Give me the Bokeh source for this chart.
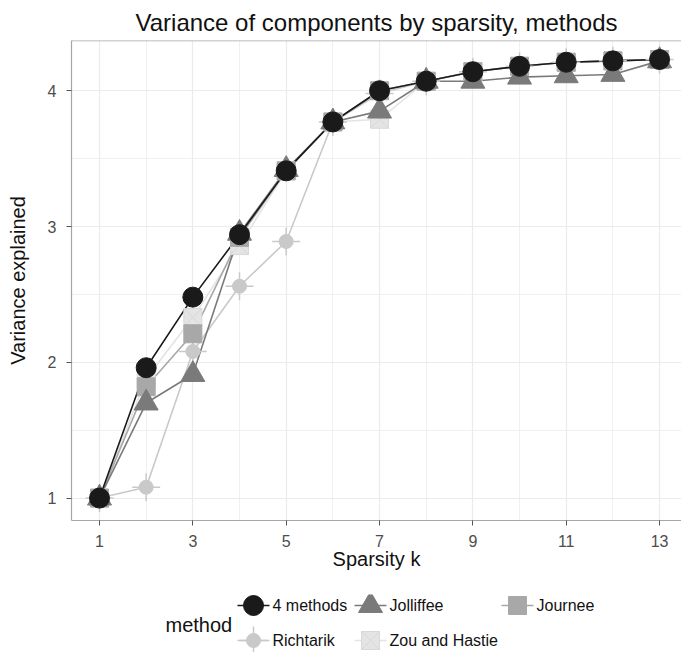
from bokeh.plotting import figure
from bokeh.models import Range1d, FixedTicker, Span
from bokeh.layouts import column
from bokeh.core.properties import value
from bokeh.embed import file_html
from bokeh.resources import INLINE

# ---- data ----
sparsity_k = [1, 2, 3, 4, 5, 6, 7, 8, 9, 10, 11, 12, 13]
methods = ["4 methods", "Jolliffee", "Journee", "Richtarik", "Zou and Hastie"]
var_4methods = [1.00, 1.96, 2.48, 2.94, 3.41, 3.77, 4.00, 4.07, 4.14, 4.18, 4.21, 4.22, 4.23]
var_jolliffee = [1.00, 1.70, 1.91, 2.95, 3.42, 3.77, 3.85, 4.07, 4.07, 4.10, 4.11, 4.12, 4.22]
var_journee = [1.00, 1.82, 2.21, 2.92, 3.41, 3.77, 4.00, 4.07, 4.14, 4.18, 4.21, 4.22, 4.23]
var_richtarik = [1.00, 1.08, 2.08, 2.56, 2.89, 3.77, 3.98, 4.07, 4.14, 4.18, 4.21, 4.22, 4.23]
var_zou = [1.00, 1.88, 2.33, 2.86, 3.41, 3.77, 3.79, 4.07, 4.14, 4.18, 4.21, 4.22, 4.23]
x_ticks = [1, 3, 5, 7, 9, 11, 13]
x_minor = [2, 4, 6, 8, 10, 12]
y_ticks = [1, 2, 3, 4]
y_minor = [1.5, 2.5, 3.5]

FONT = "Liberation Sans"
C4, CJO, CJU, CRI, CZO = "#1a1a1a", "#7a7a7a", "#a8a8a8", "#c9c9c9", "#e4e4e4"

p = figure(width=681, height=594, x_range=Range1d(0.4, 13.47), y_range=Range1d(0.835, 4.37),
           output_backend="svg", toolbar_location=None,
           min_border_left=71, min_border_right=0, min_border_top=40, min_border_bottom=74)
p.outline_line_color = None
p.background_fill_color = "white"

p.title.text = "Variance of components by sparsity, methods"
p.title.align = "center"
p.title.text_font = FONT
p.title.text_font_size = "24px"
p.title.text_font_style = "normal"
p.title.text_color = "#111111"
p.title.standoff = 9
p.title.offset = -9

# grid
p.xaxis.ticker = FixedTicker(ticks=x_ticks, minor_ticks=x_minor)
p.yaxis.ticker = FixedTicker(ticks=y_ticks, minor_ticks=y_minor)
for g in (p.xgrid, p.ygrid):
    g.grid_line_color = "#ebebeb"
    g.grid_line_width = 1.2
    g.minor_grid_line_color = "#f0f0f0"
    g.minor_grid_line_width = 1

for ax in (p.xaxis, p.yaxis):
    ax.axis_line_color = "#a6a6a6"
    ax.axis_line_width = 1.2
    ax.major_tick_line_color = "#555555"
    ax.major_tick_out = 5
    ax.major_tick_in = 0
    ax.minor_tick_line_color = None
    ax.major_label_text_font = FONT
    ax.major_label_text_font_size = "16px"
    ax.major_label_text_color = "#4d4d4d"
    ax.axis_label_text_font = FONT
    ax.axis_label_text_font_size = "20px"
    ax.axis_label_text_font_style = "normal"
    ax.axis_label_text_color = "#111111"
p.xaxis.axis_label = "Sparsity k"
p.yaxis.axis_label = "Variance explained"
p.yaxis.major_label_standoff = 10
p.xaxis.major_label_standoff = 9
p.yaxis.axis_label_standoff = 16
p.xaxis.axis_label_standoff = -2

p.add_layout(Span(location=4.3685, dimension="width", line_color="#a6a6a6", line_width=1.2))

series = [var_4methods, var_jolliffee, var_journee, var_richtarik, var_zou]
colors = [C4, CJO, CJU, CRI, CZO]

# lines
for vals, c in zip(series[::-1], colors[::-1]):
    p.line(sparsity_k, vals, line_color=c, line_width=1.6)

# points
p.scatter(sparsity_k, var_zou, marker="square_x", size=18, fill_color=CZO, line_color="#d8d8d8", line_width=1)
p.scatter(sparsity_k, var_richtarik, marker="cross", size=28, line_color=CRI, line_width=1.5)
p.scatter(sparsity_k, var_richtarik, marker="circle", size=14, fill_color=CRI, line_color=CRI)
p.scatter(sparsity_k, var_journee, marker="square", size=18, fill_color=CJU, line_color=CJU)
p.scatter(sparsity_k, var_jolliffee, marker="triangle", size=24, fill_color=CJO, line_color=CJO)
p.scatter(sparsity_k, var_4methods, marker="circle", size=20, fill_color=C4, line_color=C4)

# ---- legend (separate panel; its frame is aligned with the plot frame, coords = page pixels) ----
lg = figure(width=681, height=58, x_range=Range1d(71, 681), y_range=Range1d(652, 594),
            output_backend="svg", toolbar_location=None,
            min_border_left=71, min_border_right=0, min_border_top=0, min_border_bottom=0,
            x_axis_location=None, y_axis_location=None)
lg.grid.visible = False
lg.outline_line_color = None

key_x = [253, 370, 517, 253, 370]
key_y = [605, 605, 605, 640, 640]
for kx, ky, c in zip(key_x, key_y, colors):
    lg.line([kx - 16, kx + 16], [ky, ky], line_color=c, line_width=1.6)
lg.scatter([key_x[0]], [key_y[0]], marker="circle", size=20, fill_color=C4, line_color=C4)
lg.scatter([key_x[1]], [key_y[1]], marker="triangle", size=24, fill_color=CJO, line_color=CJO)
lg.scatter([key_x[2]], [key_y[2]], marker="square", size=18, fill_color=CJU, line_color=CJU)
lg.scatter([key_x[3]], [key_y[3]], marker="cross", size=28, line_color=CRI, line_width=1.5)
lg.scatter([key_x[3]], [key_y[3]], marker="circle", size=14, fill_color=CRI, line_color=CRI)
lg.scatter([key_x[4]], [key_y[4]], marker="square_x", size=18, fill_color=CZO, line_color="#d8d8d8")
lg.text(x=[kx + 19 for kx in key_x], y=key_y, text=methods,
        text_font=value(FONT), text_font_size="16px", text_baseline="middle",
        text_color="#111111")
lg.text(x=[165], y=[624], text=["method"], text_font=value(FONT), text_font_size="20px",
        text_baseline="middle", text_color="#111111")

layout = column(p, lg, spacing=0)
open("out.html", "w").write(file_html(layout, INLINE))
